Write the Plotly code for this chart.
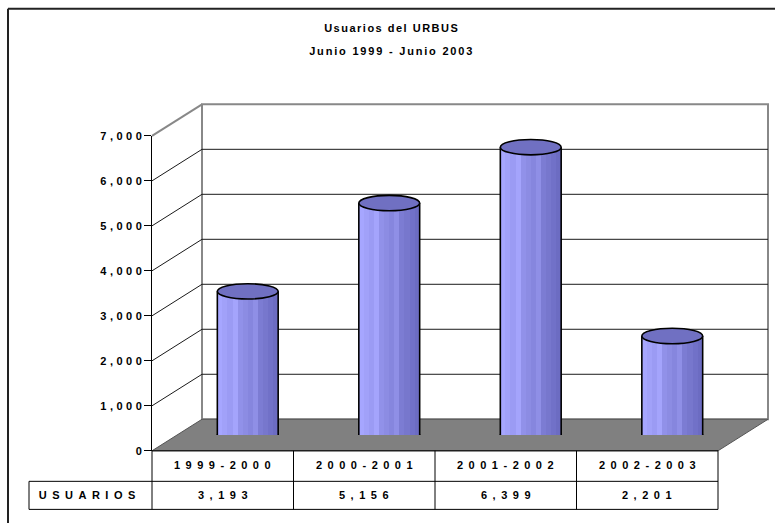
import plotly.graph_objects as go

# ---------------- data ----------------
categories = ["1999-2000", "2000-2001", "2001-2002", "2002-2003"]
usuarios = [3193, 5156, 6399, 2201]
series_name = "USUARIOS"
tick_values = [0, 1000, 2000, 3000, 4000, 5000, 6000, 7000]
tick_labels = ["0", "1,000", "2,000", "3,000", "4,000", "5,000", "6,000", "7,000"]
value_labels = [f"{v:,}" for v in usuarios]
title_line1 = "Usuarios del URBUS"
title_line2 = "Junio 1999 - Junio 2003"

# ---------------- layout geometry (pixels) ----------------
W, H = 775, 529
FL, FR = 152, 718          # front x-extent of the category axis
FB, FT = 449.5, 135        # front pixel y of 0 and of the axis max
DX, DY = 50, 31.5          # depth offset to the back wall
YMAX = tick_values[-1]
MID = 0.5                  # bars sit half way in depth
BW = 0.43                  # bar width (category units)
ROW1_BOT, ROW2_BOT, LABEL_L = 480, 508, 29
FONT = "Arial, 'Liberation Sans', sans-serif"
VS, VOFF = 0.976, 5.3      # vertical correction of the capture
n = len(categories)


def px(x):
    return x / W


def py(y):
    return 1 - ((y - VOFF) / VS) / H


def front_y(v):
    return FB - (FB - FT) * v / YMAX


col_w = (FR - FL) / n
RX = BW * col_w / 2
RY = 7.5 / VS

fig = go.Figure()

# cylinder bodies: vertical stripes for shading
N = 12
c0 = (166, 166, 255)
c1 = (108, 108, 194)
for k in range(N):
    t = k / (N - 1)
    c = tuple(int(round(c0[j] + (c1[j] - c0[j]) * t)) for j in range(3))
    if k in (3, 7):
        c = tuple(min(255, v + 14) for v in c)
    w = BW / N
    fig.add_trace(go.Bar(
        x=categories, y=usuarios, xaxis="x", yaxis="y",
        width=w * (1.15 if k < N - 1 else 1.0), offset=-BW / 2 + k * w,
        marker=dict(color=f"rgb{c}", line=dict(width=0)),
        showlegend=False, hoverinfo="skip", name=series_name,
    ))

# invisible trace to host the front value axis
fig.add_trace(go.Scatter(x=[None], y=[None], xaxis="x3", yaxis="y3",
                         showlegend=False, hoverinfo="skip"))

shapes = []
# outer frame (top and left edges; the rest is outside the picture)
frame = dict(color="#222", width=2)
shapes.append(dict(type="line", xref="paper", yref="paper", x0=px(8), y0=py(8),
                   x1=1, y1=py(8), line=frame, layer="below"))
shapes.append(dict(type="line", xref="paper", yref="paper", x0=px(8), y0=py(8),
                   x1=px(8), y1=0, line=frame, layer="below"))
# back wall
shapes.append(dict(type="rect", xref="paper", yref="paper",
                   x0=px(FL + DX), x1=px(FR + DX), y0=py(FB - DY), y1=py(FT - DY),
                   fillcolor="white", line=dict(color="#888", width=2), layer="below"))
# back wall gridlines + side wall lines
for v in tick_values[1:-1]:
    yb = front_y(v) - DY
    shapes.append(dict(type="line", xref="paper", yref="paper",
                       x0=px(FL + DX), x1=px(FR + DX), y0=py(yb), y1=py(yb),
                       line=dict(color="#1a1a1a", width=1), layer="below"))
    shapes.append(dict(type="line", xref="paper", yref="paper",
                       x0=px(FL), x1=px(FL + DX), y0=py(front_y(v)), y1=py(yb),
                       line=dict(color="#1a1a1a", width=1), layer="below"))
shapes.append(dict(type="line", xref="paper", yref="paper",
                   x0=px(FL), x1=px(FL + DX), y0=py(front_y(YMAX)), y1=py(front_y(YMAX) - DY),
                   line=dict(color="#888", width=2), layer="below"))
# floor
floor_path = (f"M{px(FL)},{py(FB)} L{px(FR)},{py(FB)} L{px(FR + DX)},{py(FB - DY)} "
              f"L{px(FL + DX)},{py(FB - DY)} Z")
shapes.append(dict(type="path", xref="paper", yref="paper", path=floor_path,
                   fillcolor="#808080", line=dict(color="#555", width=1), layer="below"))

# cylinder ends and outlines
for i, v in enumerate(usuarios):
    shapes.append(dict(type="circle", xref="x", yref="y", xsizemode="pixel", xanchor=i,
                       ysizemode="pixel", yanchor=0, x0=-RX, x1=RX, y0=-RY, y1=RY,
                       fillcolor="#8a8ae6", line=dict(color="black", width=1.6), layer="between"))
    for sgn in (-1, 1):
        shapes.append(dict(type="line", xref="x", yref="y", x0=i + sgn * BW / 2,
                           x1=i + sgn * BW / 2, y0=0, y1=v,
                           line=dict(color="black", width=1.6), layer="above"))
    shapes.append(dict(type="circle", xref="x", yref="y", xsizemode="pixel", xanchor=i,
                       ysizemode="pixel", yanchor=v, x0=-RX, x1=RX, y0=-RY, y1=RY,
                       fillcolor="#7070c2", line=dict(color="black", width=1.6), layer="above"))

# data table lines
tl = dict(color="black", width=1)
shapes.append(dict(type="line", xref="paper", yref="paper", x0=px(FL), x1=px(FR),
                   y0=py(FB), y1=py(FB), line=tl))
for yy in (ROW1_BOT, ROW2_BOT):
    shapes.append(dict(type="line", xref="paper", yref="paper", x0=px(LABEL_L), x1=px(FR),
                       y0=py(yy), y1=py(yy), line=tl))
for k in range(n + 1):
    xx = FL + k * col_w
    shapes.append(dict(type="line", xref="paper", yref="paper", x0=px(xx), x1=px(xx),
                       y0=py(FB), y1=py(ROW2_BOT), line=tl))
shapes.append(dict(type="line", xref="paper", yref="paper", x0=px(LABEL_L), x1=px(LABEL_L),
                   y0=py(ROW1_BOT), y1=py(ROW2_BOT), line=tl))

tfont = dict(family=FONT, size=11, color="black", weight=700)
annotations = []
for i, (c, lab) in enumerate(zip(categories, value_labels)):
    annotations.append(dict(xref="x3", yref="paper", x=i, y=py((FB + ROW1_BOT) / 2 - 1),
                            text=c, showarrow=False, font=tfont,
                            xanchor="center", yanchor="middle"))
    annotations.append(dict(xref="x3", yref="paper", x=i, y=py((ROW1_BOT + ROW2_BOT) / 2),
                            text=lab, showarrow=False, font=tfont,
                            xanchor="center", yanchor="middle"))
annotations.append(dict(xref="paper", yref="paper", x=px((LABEL_L + FL) / 2 - 4),
                        y=py((ROW1_BOT + ROW2_BOT) / 2), text=series_name,
                        showarrow=False, font=tfont, xanchor="center", yanchor="middle"))
annotations.append(dict(xref="paper", yref="paper", x=px(391), y=py(50), text=title_line2,
                        showarrow=False, font=tfont, xanchor="center", yanchor="middle"))

fig.update_layout(
    width=W, height=H, margin=dict(l=0, r=0, t=0, b=0),
    paper_bgcolor="white", plot_bgcolor="rgba(0,0,0,0)",
    barmode="overlay", bargap=0, showlegend=False,
    title=dict(text=title_line1, x=px(391), xanchor="center", xref="paper",
               y=py(32.5), yanchor="middle", yref="container", font=tfont),
    xaxis=dict(domain=[px(FL + DX * MID), px(FR + DX * MID)], range=[-0.5, n - 0.5],
               type="category", visible=False, anchor="y"),
    yaxis=dict(domain=[py(FB - DY * MID), py(FT - DY * MID)], range=[0, YMAX],
               visible=False, anchor="x"),
    xaxis3=dict(domain=[px(FL), px(FR)], range=[-0.5, n - 0.5], visible=False, anchor="y3"),
    yaxis3=dict(domain=[py(FB), py(FT)], range=[0, YMAX], anchor="x3",
                tickmode="array", tickvals=tick_values, ticktext=tick_labels,
                ticks="outside", ticklen=7, tickcolor="black", tickwidth=1,
                showline=True, linecolor="black", linewidth=1, showgrid=False,
                zeroline=False, tickfont=tfont),
    shapes=shapes, annotations=annotations,
)

post = """
var gd = document.getElementById('{plot_id}');
document.documentElement.style.cssText = 'margin:0;padding:0;height:529px;overflow:hidden;';
document.body.style.cssText = 'margin:0;padding:0;height:529px;width:775px;overflow:hidden;position:relative;';
gd.style.position = 'absolute';
gd.style.left = '0px';
gd.style.top = '0px';
var SUB = %r;
function spaceText(t, sp, mode) {
  if (t.__spaced) return;
  t.__spaced = true;
  var b0 = t.getBBox();
  t.style.letterSpacing = sp + 'px';
  var b1 = t.getBBox();
  var d;
  if (mode === 'end') {
    d = (b0.x + b0.width) - (b1.x + b1.width - sp);
  } else {
    d = (b0.x + b0.width / 2) - (b1.x + (b1.width - sp) / 2);
  }
  var prev = t.getAttribute('transform') || '';
  t.setAttribute('transform', prev + ' translate(' + d + ',0)');
}
gd.querySelectorAll('.gtitle').forEach(function (t) { spaceText(t, 1.5, 'mid'); });
gd.querySelectorAll('.yaxislayer-above text').forEach(function (t) { spaceText(t, 3.5, 'end'); });
gd.querySelectorAll('.annotation-text').forEach(function (t) {
  spaceText(t, (t.textContent === SUB) ? 1.8 : 5.5, 'mid');
});
""" % title_line2

fig.write_html("out.html", config={"displayModeBar": False}, post_script=post)
